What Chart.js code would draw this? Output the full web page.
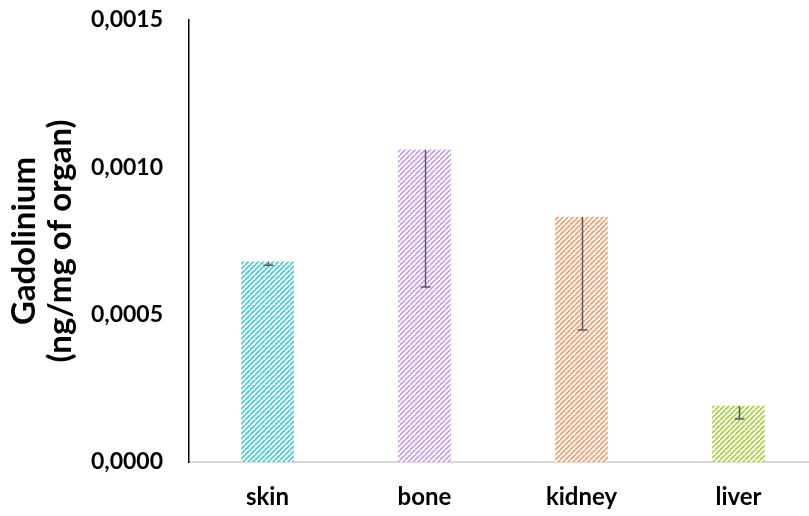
<!DOCTYPE html>
<html>
<head>
<meta charset="utf-8">
<script src="https://cdn.jsdelivr.net/npm/chart.js@4/dist/chart.umd.min.js"></script>
<style>
html,body{margin:0;padding:0;background:#fff;overflow:hidden;width:809px;height:516px;}
#wrap{width:820px;height:516px;}
</style>
</head>
<body>
<div id="wrap"><canvas id="c" width="820" height="516"></canvas></div>
<script>
const categories = ['skin', 'bone', 'kidney', 'liver'];
const values = [0.000679, 0.001059, 0.000831, 0.000190];
const errorsMinus = [0.000011, 0.000465, 0.000383, 0.000044];
const barColors = ['#3ccfd6', '#c79af2', '#f99a6a', '#a6d13a'];
const yTicks = [0, 0.0005, 0.001, 0.0015];

function hatch(color) {
  const s = 5;
  const c = document.createElement('canvas');
  c.width = s; c.height = s;
  const g = c.getContext('2d');
  g.fillStyle = '#ffffff';
  g.fillRect(0, 0, s, s);
  g.strokeStyle = color;
  g.lineWidth = 1.6;
  g.beginPath();
  g.moveTo(-1, s + 1); g.lineTo(s + 1, -1);
  g.moveTo(-1 - s, s + 1); g.lineTo(1, -1);
  g.moveTo(s - 1, 2 * s + 1); g.lineTo(2 * s + 1, s - 1);
  g.stroke();
  return g.createPattern(c, 'repeat');
}

const errorBars = {
  id: 'errorBars',
  afterDatasetsDraw(chart) {
    const ctx = chart.ctx;
    const meta = chart.getDatasetMeta(0);
    const y = chart.scales.y;
    ctx.save();
    ctx.strokeStyle = '#595959';
    ctx.lineWidth = 1.5;
    meta.data.forEach((bar, i) => {
      const x = Math.round(bar.x) + 0.5;
      const yTop = y.getPixelForValue(values[i]);
      const yLow = y.getPixelForValue(values[i] - errorsMinus[i]);
      ctx.beginPath();
      ctx.moveTo(x, yTop);
      ctx.lineTo(x, yLow);
      ctx.moveTo(x - 5, yLow);
      ctx.lineTo(x + 5, yLow);
      ctx.stroke();
    });
    ctx.restore();
  }
};

const FONT = 'Lato, "Open Sans", sans-serif';

new Chart(document.getElementById('c'), {
  type: 'bar',
  data: {
    labels: categories,
    datasets: [{
      data: values,
      backgroundColor: barColors.map(hatch),
      borderWidth: 0,
      barThickness: 52
    }]
  },
  options: {
    responsive: false,
    animation: false,
    layout: { padding: { top: 20, right: 3, bottom: 0, left: 0 } },
    plugins: { legend: { display: false }, tooltip: { enabled: false } },
    scales: {
      x: {
        grid: { display: false, drawTicks: false },
        border: { color: '#d9d9d9', width: 2 },
        afterFit(scale) { scale.height = 54; scale.paddingLeft = 0; scale.paddingRight = 0; },
        ticks: { color: '#000', padding: 21, font: { family: FONT, size: 24, weight: 'bold' } }
      },
      y: {
        min: 0, max: 0.0015,
        afterBuildTicks(scale) { scale.ticks = yTicks.map(v => ({ value: v })); },
        afterFit(scale) { scale.width = 189; scale.paddingTop = 0; scale.paddingBottom = 0; },
        grid: { display: false, drawOnChartArea: false, drawTicks: true, tickLength: 6, tickColor: '#000', tickWidth: 1.5 },
        border: { color: '#000', width: 1.5 },
        ticks: {
          color: '#000', padding: 20,
          font: { family: FONT, size: 23, weight: 'bold' },
          callback: v => Number(v).toFixed(4).replace('.', ',')
        },
        title: {
          display: true,
          text: ['Gadolinium', '(ng/mg of organ)'],
          color: '#000',
          font: { family: FONT, size: 33, weight: 'bold', lineHeight: 1.1 },
          padding: { top: 6, bottom: 0 }
        }
      }
    }
  },
  plugins: [errorBars]
});
</script>
</body>
</html>
